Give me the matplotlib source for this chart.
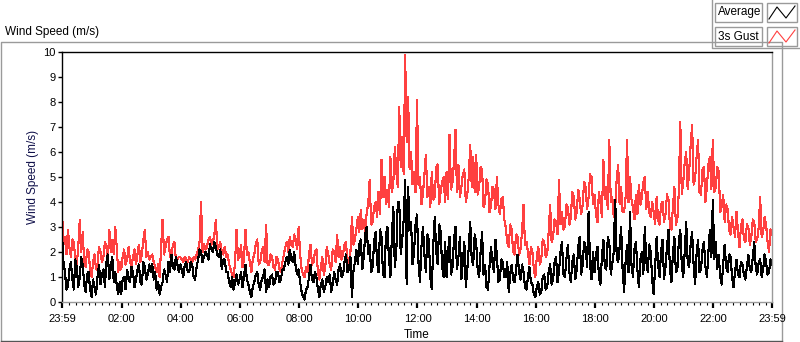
import matplotlib

matplotlib.use("Agg")
import matplotlib.pyplot as plt
import numpy as np
from matplotlib.lines import Line2D
from matplotlib.patches import Rectangle

# one sample every 3 minutes, starting 23:59 the day before
SAMPLE_MINUTES = 3

gust = [
    3.6, 2.4, 2.6, 1.9, 2.9, 2.2, 1.8, 2.5, 2.4, 1.7, 1.5, 2.2, 3.3, 2.0, 2.8, 1.6, 1.4, 2.1, 2.0, 1.3,
    1.0, 1.6, 1.9, 1.3, 1.5, 2.2, 2.0, 1.6, 1.8, 2.4, 2.2, 1.7, 2.9, 2.0, 2.5, 1.9, 3.0, 2.2, 1.2, 1.6,
    1.3, 1.8, 2.1, 1.5, 1.7, 2.2, 1.6, 1.4, 1.8, 2.1, 1.5, 1.9, 2.3, 1.6, 1.9, 2.5, 2.9, 1.8, 2.0, 1.7,
    1.8, 1.9, 1.6, 1.4, 1.2, 1.5, 1.0, 2.2, 3.3, 1.9, 2.2, 2.5, 2.6, 1.8, 1.9, 2.3, 2.4, 1.7, 1.7, 1.8,
    1.8, 1.7, 1.6, 1.8, 1.7, 1.6, 1.8, 1.7, 1.6, 1.8, 1.7, 1.9, 2.1, 2.4, 4.0, 2.0, 2.3, 2.1, 2.2, 2.5,
    2.6, 2.3, 2.4, 2.7, 3.3, 2.1, 2.2, 2.4, 2.0, 1.9, 2.2, 1.8, 1.9, 1.5, 1.3, 1.1, 1.0, 1.6, 2.9, 1.7,
    1.8, 2.3, 1.4, 1.7, 2.9, 1.9, 2.0, 1.6, 1.2, 1.7, 1.9, 2.3, 2.5, 1.5, 1.6, 2.0, 2.2, 1.6, 3.1, 1.5,
    1.5, 1.9, 1.8, 1.4, 1.3, 1.8, 1.7, 1.3, 1.2, 1.6, 1.9, 2.2, 2.4, 2.0, 2.6, 2.3, 2.2, 2.7, 2.5, 2.1,
    3.0, 1.9, 1.3, 1.1, 1.0, 1.4, 1.2, 1.9, 2.3, 1.5, 1.6, 2.0, 2.1, 1.2, 0.9, 1.4, 1.8, 1.1, 1.4, 2.2,
    1.9, 1.5, 1.3, 2.1, 2.0, 1.6, 2.7, 1.8, 2.2, 1.7, 1.9, 2.3, 2.4, 1.5, 1.6, 2.0, 3.4, 2.3, 2.5, 2.9,
    3.4, 2.8, 3.7, 2.9, 3.3, 2.7, 3.6, 3.9, 4.9, 3.1, 3.2, 3.8, 4.0, 3.4, 4.4, 3.5, 5.7, 4.2, 5.0, 3.9,
    4.5, 3.8, 5.8, 4.4, 4.8, 6.2, 5.2, 4.6, 7.8, 5.4, 6.6, 5.1, 9.9, 6.4, 8.2, 5.3, 6.0, 4.7, 5.2, 4.4,
    8.1, 4.7, 5.0, 3.9, 4.3, 5.1, 5.9, 4.2, 4.6, 3.8, 5.2, 4.1, 4.2, 5.4, 5.5, 3.9, 4.4, 4.8, 5.0, 4.0,
    5.2, 4.1, 6.7, 4.5, 4.8, 5.6, 6.9, 4.4, 5.5, 4.2, 4.6, 5.1, 5.3, 4.0, 4.3, 5.0, 6.3, 4.6, 5.8, 4.4,
    5.9, 4.3, 4.6, 5.4, 5.3, 3.8, 4.0, 4.9, 4.7, 3.6, 3.8, 4.6, 4.5, 3.7, 5.0, 3.9, 3.5, 4.1, 4.2, 3.3,
    3.0, 2.4, 2.2, 3.1, 2.9, 2.0, 1.9, 2.7, 2.6, 1.9, 2.1, 2.8, 3.9, 2.3, 2.4, 2.0, 1.5, 2.2, 2.0, 1.3,
    1.0, 1.8, 2.2, 1.5, 1.7, 2.5, 2.4, 1.8, 1.9, 2.8, 3.9, 2.4, 2.6, 3.3, 3.2, 2.7, 4.9, 3.1, 3.6, 2.9,
    3.0, 3.9, 3.8, 3.1, 3.4, 4.4, 4.2, 3.3, 3.6, 4.5, 4.1, 3.5, 3.9, 4.8, 4.6, 3.7, 4.2, 5.1, 5.0, 3.9,
    4.3, 3.5, 3.2, 4.4, 4.0, 3.4, 5.7, 4.1, 4.6, 3.7, 6.5, 4.0, 4.2, 3.4, 3.8, 4.9, 5.5, 3.9, 4.6, 3.6,
    3.6, 4.2, 6.5, 4.0, 5.0, 4.1, 3.8, 3.3, 4.3, 3.5, 4.7, 3.9, 4.2, 4.8, 5.0, 3.7, 4.4, 3.6, 3.4, 4.0,
    3.6, 3.1, 4.2, 3.3, 3.1, 3.9, 4.0, 3.2, 3.5, 4.3, 4.1, 3.0, 2.9, 3.8, 4.6, 3.1, 3.3, 4.4, 7.2, 4.3,
    4.8, 5.6, 6.0, 4.5, 5.2, 6.3, 7.1, 4.7, 4.9, 5.8, 6.5, 4.4, 4.3, 5.3, 5.4, 4.0, 4.6, 5.5, 5.8, 4.5,
    6.5, 4.4, 4.6, 5.4, 5.2, 3.6, 3.8, 4.3, 3.2, 3.9, 3.7, 2.9, 2.7, 3.4, 3.0, 2.6, 3.6, 2.8, 2.2, 3.0,
    3.3, 2.5, 2.4, 3.1, 3.0, 2.3, 2.6, 3.3, 3.2, 2.4, 2.5, 3.0, 4.2, 2.6, 2.8, 3.4, 3.1, 2.4, 2.0, 2.9,
    2.7,
]

average = [
    2.7, 1.6, 1.2, 0.5, 0.6, 1.3, 1.6, 0.9, 0.5, 1.7, 1.4, 0.6, 1.0, 1.8, 1.5, 0.7, 0.4, 1.1, 1.2, 0.5,
    0.2, 0.9, 0.6, 0.3, 1.0, 1.5, 0.7, 1.1, 1.3, 0.6, 1.6, 1.9, 0.9, 1.4, 1.8, 0.8, 1.2, 0.7, 0.3, 0.8,
    0.3, 0.9, 1.0, 0.5, 1.3, 0.9, 0.8, 1.4, 1.2, 0.6, 0.9, 1.3, 1.5, 0.8, 0.7, 1.6, 1.4, 0.9, 1.1, 1.5,
    1.2, 1.5, 0.9, 1.2, 0.5, 0.8, 0.3, 0.6, 0.8, 1.3, 1.1, 0.8, 1.6, 1.2, 1.9, 1.4, 1.3, 1.8, 1.5, 1.2,
    1.5, 1.3, 1.0, 1.5, 1.6, 1.2, 1.2, 1.6, 1.5, 1.0, 0.9, 1.4, 1.7, 2.1, 2.0, 1.6, 1.8, 2.0, 1.9, 1.7,
    2.3, 2.1, 2.0, 2.4, 2.2, 1.9, 1.8, 2.1, 1.3, 1.7, 1.7, 1.2, 1.2, 0.8, 0.6, 1.0, 0.5, 0.8, 1.1, 0.7,
    0.9, 1.2, 0.6, 1.0, 1.5, 0.9, 0.7, 0.4, 0.2, 0.6, 0.8, 1.1, 1.2, 0.7, 0.5, 0.9, 1.0, 1.3, 0.4, 0.9,
    0.6, 1.0, 1.1, 0.7, 0.8, 1.2, 1.2, 0.8, 0.9, 1.3, 1.3, 1.6, 1.8, 1.5, 2.1, 1.7, 1.6, 2.0, 1.4, 1.1,
    1.3, 0.8, 0.4, 0.2, 0.1, 0.5, 0.6, 1.0, 1.5, 0.9, 0.8, 1.2, 1.0, 0.5, 0.2, 0.7, 0.9, 0.4, 0.6, 1.0,
    0.8, 1.1, 0.4, 0.7, 1.2, 0.9, 0.7, 1.3, 1.5, 1.0, 1.1, 1.6, 1.9, 1.2, 1.3, 1.8, 0.2, 1.2, 1.6, 2.1,
    1.5, 2.3, 2.5, 1.3, 1.8, 2.7, 3.0, 1.9, 2.3, 1.2, 1.4, 2.4, 2.8, 1.6, 1.2, 2.9, 2.6, 1.1, 1.0, 2.7,
    3.0, 1.8, 1.0, 2.6, 3.8, 1.4, 2.0, 4.0, 4.0, 1.9, 2.5, 3.3, 4.9, 0.7, 4.6, 2.9, 3.2, 1.5, 2.0, 3.1,
    3.5, 1.6, 0.8, 2.2, 3.0, 1.9, 1.2, 2.7, 2.5, 1.0, 0.5, 2.3, 3.4, 2.0, 1.5, 3.1, 2.8, 1.4, 1.0, 2.4,
    1.0, 2.0, 2.6, 1.1, 1.4, 2.5, 3.0, 1.3, 1.8, 2.6, 0.9, 1.6, 2.4, 0.6, 1.3, 2.2, 3.2, 1.7, 1.5, 2.7,
    2.4, 1.3, 1.0, 2.0, 2.8, 1.1, 1.5, 0.6, 0.5, 1.4, 2.2, 1.6, 1.2, 2.5, 1.9, 0.8, 0.9, 1.7, 1.6, 1.0,
    1.0, 1.6, 0.4, 1.1, 1.5, 0.9, 0.8, 1.3, 1.9, 1.2, 0.9, 1.5, 1.2, 0.6, 0.5, 1.0, 1.4, 0.8, 0.7, 0.3,
    0.2, 0.6, 0.8, 0.3, 0.4, 1.0, 1.1, 0.5, 0.6, 1.2, 1.5, 0.7, 0.9, 1.6, 1.8, 0.8, 1.2, 2.0, 2.4, 1.1,
    1.0, 1.7, 2.3, 1.2, 0.8, 1.6, 1.9, 0.9, 1.3, 2.2, 2.6, 1.1, 1.5, 2.4, 2.2, 1.4, 3.6, 1.5, 0.9, 2.0,
    1.2, 1.9, 2.2, 1.0, 0.7, 1.8, 2.5, 1.4, 1.3, 2.6, 2.4, 1.1, 1.5, 2.0, 4.1, 1.8, 1.6, 2.2, 3.0, 1.3,
    0.4, 1.6, 2.3, 1.2, 3.6, 1.5, 1.0, 2.1, 2.4, 1.3, 0.6, 1.7, 2.0, 1.1, 3.0, 1.6, 1.2, 2.3, 2.0, 0.9,
    0.3, 1.4, 2.6, 1.5, 1.0, 2.0, 2.5, 0.9, 1.4, 2.2, 2.9, 1.3, 0.8, 1.9, 2.6, 1.2, 1.3, 2.4, 2.9, 1.5,
    1.0, 2.0, 3.2, 1.6, 1.4, 2.3, 2.8, 1.5, 0.7, 1.9, 2.5, 1.2, 1.3, 2.1, 2.4, 1.4, 1.0, 2.0, 2.9, 1.8,
    4.1, 1.7, 2.4, 1.3, 1.9, 1.0, 0.7, 1.5, 2.3, 1.4, 1.2, 1.9, 1.8, 1.0, 0.6, 1.2, 1.7, 1.1, 1.0, 1.6,
    1.5, 1.1, 0.9, 1.4, 1.9, 1.3, 1.2, 1.8, 2.4, 1.4, 1.1, 1.6, 1.7, 1.0, 1.3, 1.9, 1.6, 1.1, 1.2, 1.7,
    1.5,
]

time_labels = ["23:59", "02:00", "04:00", "06:00", "08:00", "10:00", "12:00",
               "14:00", "16:00", "18:00", "20:00", "22:00", "23:59"]

FONT = "Liberation Sans"
FRAME = "#9a9a9a"

hours = np.arange(len(gust)) * SAMPLE_MINUTES / 60.0
# even clock hours sit one minute after the 23:59 start
major = [0.0] + [2 * k + 1 / 60 for k in range(1, 12)] + [24.0]
minor = [k * 2 / 9 + 1 / 60 for k in range(1, 108) if k % 9]
minor = [m for m in minor if m < 24]

fig = plt.figure(figsize=(8, 3.42), dpi=100)

# pixel-space overlay for the LabVIEW-style frame and legend
deco = fig.add_axes([0, 0, 1, 1], zorder=0)
deco.set_xlim(0, 800)
deco.set_ylim(342, 0)
deco.axis("off")
deco.add_line(Line2D([1, 1, 782, 782], [341, 42, 42, 341], color=FRAME, lw=1))
deco.add_line(Line2D([1, 782], [340.5, 340.5], color="#555555", lw=1))
deco.add_patch(Rectangle((712, 0), 88, 48, facecolor="white", edgecolor="none"))
deco.add_line(Line2D([712, 712, 800], [0, 48, 48], color=FRAME, lw=1))
deco.text(5, 32, "Wind Speed (m/s)", fontsize=8.5, family=FONT, va="center", ha="left")

for row, (name, col) in enumerate([("Average", "black"), ("3s Gust", "#ff4040")]):
    y0 = 3 + row * 24
    deco.add_patch(Rectangle((715, y0), 47, 19, facecolor="white", edgecolor=FRAME, lw=1))
    deco.add_patch(Rectangle((767, y0), 30, 19, facecolor="white", edgecolor=FRAME, lw=1))
    deco.text(718, y0 + 9.5, name, fontsize=8.5, family=FONT, va="center", ha="left")
    deco.add_line(Line2D([769, 777, 786, 795], [y0 + 16, y0 + 4, y0 + 15, y0 + 3],
                         color=col, lw=0.8))

ax = fig.add_axes([62 / 800, 40 / 342, 710 / 800, 250 / 342], zorder=1)
ax.plot(hours, gust, color="#ff4040", lw=0.8, antialiased=False)
ax.plot(hours, average, color="black", lw=0.8, antialiased=False)

ax.set_xlim(0, 24)
ax.set_ylim(0, 10)
ax.set_yticks(range(0, 11))
ax.set_xticks(major)
ax.set_xticklabels(time_labels)
ax.set_xticks(minor, minor=True)

for side in ("top", "left"):
    ax.spines[side].set_color("black")
for side in ("right", "bottom"):
    ax.spines[side].set_color(FRAME)
for sp in ax.spines.values():
    sp.set_linewidth(1)

ax.tick_params(axis="y", direction="out", length=3, width=1, pad=1.5, labelsize=8)
ax.tick_params(axis="x", which="major", direction="out", length=4, width=1.6,
               pad=4.5, labelsize=8)
ax.tick_params(axis="x", which="minor", direction="out", length=2.5, width=0.8)
for lab in ax.get_xticklabels() + ax.get_yticklabels():
    lab.set_family(FONT)

ax.set_ylabel("Wind Speed (m/s)", fontsize=8.5, family=FONT, color="#10104a", labelpad=3)
ax.set_xlabel("Time", fontsize=8.5, family=FONT, labelpad=4)

fig.savefig("out.png", dpi=100)
